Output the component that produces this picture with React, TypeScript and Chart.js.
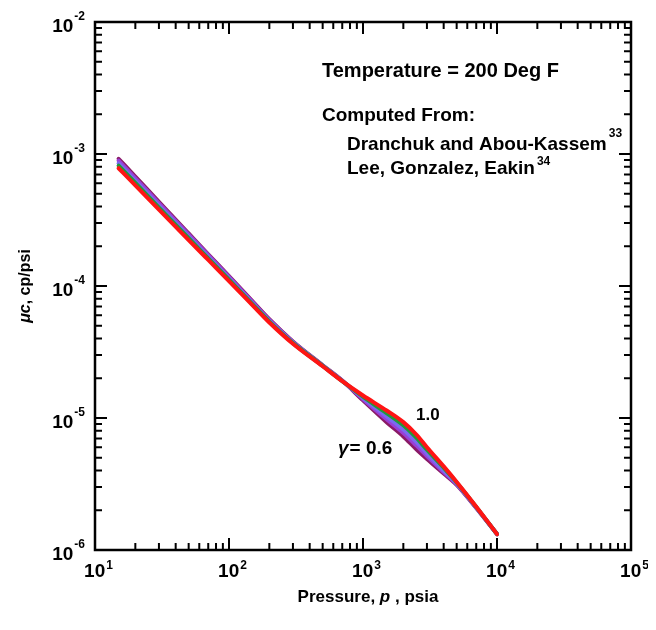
import React, { useEffect, useRef } from 'react';
import { Chart, registerables } from 'chart.js';

Chart.register(...registerables);

// Pressure, psia
const pressure = [15, 20, 30, 50, 70, 100, 150, 200, 300, 500, 700, 1000, 1500, 2000, 2500, 3000, 4000, 5000, 7000, 10000];

// mu*c, cp/psi for gas gravities 0.6 ... 1.0
const gamma06 = [9.2e-4, 6.74e-4, 4.34e-4, 2.5e-4, 1.74e-4, 1.19e-4, 7.65e-5, 5.6e-5, 3.8e-5, 2.51e-5, 1.92e-5, 1.36e-5, 9.3e-6, 7.25e-6, 5.8e-6, 4.9e-6, 3.8e-6, 3.12e-6, 2.08e-6, 1.32e-6];
const gamma07 = [8.9e-4, 6.55e-4, 4.23e-4, 2.45e-4, 1.71e-4, 1.17e-4, 7.54e-5, 5.54e-5, 3.77e-5, 2.5e-5, 1.915e-5, 1.39e-5, 9.8e-6, 7.7e-6, 6.2e-6, 5.15e-6, 3.9e-6, 3.16e-6, 2.09e-6, 1.32e-6];
const gamma08 = [8.5e-4, 6.27e-4, 4.07e-4, 2.37e-4, 1.66e-4, 1.14e-4, 7.4e-5, 5.45e-5, 3.73e-5, 2.49e-5, 1.91e-5, 1.42e-5, 1.03e-5, 8.2e-6, 6.6e-6, 5.4e-6, 4.0e-6, 3.2e-6, 2.1e-6, 1.32e-6];
const gamma09 = [8.15e-4, 6.03e-4, 3.93e-4, 2.3e-4, 1.62e-4, 1.116e-4, 7.27e-5, 5.37e-5, 3.69e-5, 2.48e-5, 1.905e-5, 1.45e-5, 1.09e-5, 8.8e-6, 7.1e-6, 5.75e-6, 4.2e-6, 3.25e-6, 2.12e-6, 1.32e-6];
const gamma10 = [7.8e-4, 5.79e-4, 3.79e-4, 2.23e-4, 1.575e-4, 1.09e-4, 7.14e-5, 5.29e-5, 3.65e-5, 2.465e-5, 1.9e-5, 1.48e-5, 1.14e-5, 9.3e-6, 7.5e-6, 6.0e-6, 4.3e-6, 3.28e-6, 2.13e-6, 1.32e-6];

const seriesNames = ['γ = 0.6', 'γ = 0.7', 'γ = 0.8', 'γ = 0.9', 'γ = 1.0'];
const seriesValues = [gamma06, gamma07, gamma08, gamma09, gamma10];
const seriesColors = ['#8a1a66', '#9a3fd6', '#7a6af0', '#1f9a3a', '#ff1414'];

// axis decades (exponents) and minor multipliers
const xExponents = [1, 2, 3, 4, 5];
const yExponents = [-6, -5, -4, -3, -2];
const minorMultipliers = [2, 3, 4, 5, 6, 7, 8, 9];

const FONT = '"Liberation Sans", Arial, Helvetica, sans-serif';

const decorations = {
  id: 'decorations',
  afterDatasetsDraw(chart: any) {
    const { ctx, chartArea: a, scales } = chart;
    const xs = scales.x;
    const ys = scales.y;
    ctx.save();
    ctx.strokeStyle = '#000';
    ctx.fillStyle = '#000';

    // ticks (inward, all sides)
    ctx.lineWidth = 2;
    const MAJ = 12;
    const MIN = 7;
    ctx.beginPath();
    for (const e of xExponents) {
      const base = Math.pow(10, e);
      const px = xs.getPixelForValue(base);
      ctx.moveTo(px, a.bottom); ctx.lineTo(px, a.bottom - MAJ);
      ctx.moveTo(px, a.top); ctx.lineTo(px, a.top + MAJ);
      for (const m of minorMultipliers) {
        const v = m * base;
        if (v > xs.max) continue;
        const p = xs.getPixelForValue(v);
        ctx.moveTo(p, a.bottom); ctx.lineTo(p, a.bottom - MIN);
        ctx.moveTo(p, a.top); ctx.lineTo(p, a.top + MIN);
      }
    }
    for (const e of yExponents) {
      const base = Math.pow(10, e);
      const py = ys.getPixelForValue(base);
      ctx.moveTo(a.left, py); ctx.lineTo(a.left + MAJ, py);
      ctx.moveTo(a.right, py); ctx.lineTo(a.right - MAJ, py);
      for (const m of minorMultipliers) {
        const v = m * base;
        if (v > ys.max) continue;
        const p = ys.getPixelForValue(v);
        ctx.moveTo(a.left, p); ctx.lineTo(a.left + MIN, p);
        ctx.moveTo(a.right, p); ctx.lineTo(a.right - MIN, p);
      }
    }
    ctx.stroke();

    // frame
    ctx.lineWidth = 2.5;
    ctx.strokeRect(a.left, a.top, a.right - a.left, a.bottom - a.top);

    // tick labels
    const bigF = `bold 19px ${FONT}`;
    const smallF = `bold 12px ${FONT}`;
    ctx.textBaseline = 'alphabetic';
    ctx.textAlign = 'left';
    for (const e of xExponents) {
      const px = xs.getPixelForValue(Math.pow(10, e));
      ctx.font = bigF;
      const w1 = ctx.measureText('10').width;
      ctx.font = smallF;
      const es = String(e);
      const w2 = ctx.measureText(es).width;
      const start = px - (w1 + w2) / 2 + 3;
      ctx.font = bigF;
      ctx.fillText('10', start, a.bottom + 27);
      ctx.font = smallF;
      ctx.fillText(es, start + w1 + 1, a.bottom + 19);
    }
    for (const e of yExponents) {
      const py = ys.getPixelForValue(Math.pow(10, e));
      const es = String(e);
      ctx.font = smallF;
      const w2 = ctx.measureText(es).width;
      const right = a.left - 10;
      ctx.fillText(es, right - w2, py - 2);
      ctx.font = bigF;
      const w1 = ctx.measureText('10').width;
      ctx.fillText('10', right - w2 - 1 - w1, py + 10);
    }

    // axis titles
    const drawParts = (parts: [string, string][], cx: number, cy: number) => {
      let total = 0;
      for (const [t, f] of parts) { ctx.font = f; total += ctx.measureText(t).width; }
      let x = cx - total / 2;
      for (const [t, f] of parts) { ctx.font = f; ctx.fillText(t, x, cy); x += ctx.measureText(t).width; }
    };
    const tB = `bold 17px ${FONT}`;
    const tBI = `italic bold 17px ${FONT}`;
    drawParts([['Pressure, ', tB], ['p', tBI], [' , psia', tB]], (a.left + a.right) / 2 + 5, a.bottom + 52);

    ctx.save();
    ctx.translate(a.left - 65, (a.top + a.bottom) / 2);
    ctx.rotate(-Math.PI / 2);
    drawParts([['μc', `italic bold 16px ${FONT}`], [', cp/psi', `bold 16px ${FONT}`]], 0, 0);
    ctx.restore();

    // annotations
    ctx.font = `bold 20px ${FONT}`;
    ctx.fillText('Temperature = 200 Deg F', 314, 69);
    ctx.font = `bold 19px ${FONT}`;
    ctx.fillText('Computed From:', 314, 113);
    const l1 = 'Dranchuk and Abou-Kassem';
    const l2 = 'Lee, Gonzalez, Eakin';
    ctx.fillText(l1, 339, 142);
    ctx.fillText(l2, 339, 166);
    const w1 = ctx.measureText(l1).width;
    const w2 = ctx.measureText(l2).width;
    ctx.font = smallF;
    ctx.fillText('33', 339 + w1 + 2, 129);
    ctx.fillText('34', 339 + w2 + 2, 157);

    ctx.font = `bold 17px ${FONT}`;
    ctx.fillText('1.0', 408, 412);
    ctx.font = `italic bold 19px ${FONT}`;
    ctx.fillText('γ', 330, 446);
    const gw = ctx.measureText('γ').width;
    ctx.font = `bold 19px ${FONT}`;
    ctx.fillText('= 0.6', 330 + gw + 1, 446);

    ctx.restore();
  },
};

export default function App() {
  const ref = useRef<HTMLCanvasElement | null>(null);
  useEffect(() => {
    if (!ref.current) return;
    const n = seriesValues.length;
    const chart = new Chart(ref.current, {
      type: 'line',
      data: {
        datasets: seriesValues.map((vals, k) => ({
          label: seriesNames[k],
          data: pressure.map((p, i) => ({ x: p, y: vals[i] })),
          borderColor: seriesColors[k],
          backgroundColor: seriesColors[k],
          borderWidth: 4,
          pointRadius: 0,
          order: n - 1 - k,
          cubicInterpolationMode: 'monotone' as const,
          borderCapStyle: 'round' as const,
          borderJoinStyle: 'round' as const,
          fill: false,
        })),
      },
      options: {
        animation: false,
        responsive: true,
        maintainAspectRatio: false,
        layout: { padding: { left: 87, right: 17, top: 14, bottom: 72 } },
        scales: {
          x: { type: 'logarithmic', min: 10, max: 100000, display: false },
          y: { type: 'logarithmic', min: 1e-6, max: 1e-2, display: false },
        },
        plugins: { legend: { display: false }, tooltip: { enabled: false } },
        events: [],
      },
      plugins: [decorations],
    });
    return () => chart.destroy();
  }, []);
  return (
    <div style={{ width: 640, height: 614, position: 'relative' }}>
      <canvas ref={ref} />
    </div>
  );
}
